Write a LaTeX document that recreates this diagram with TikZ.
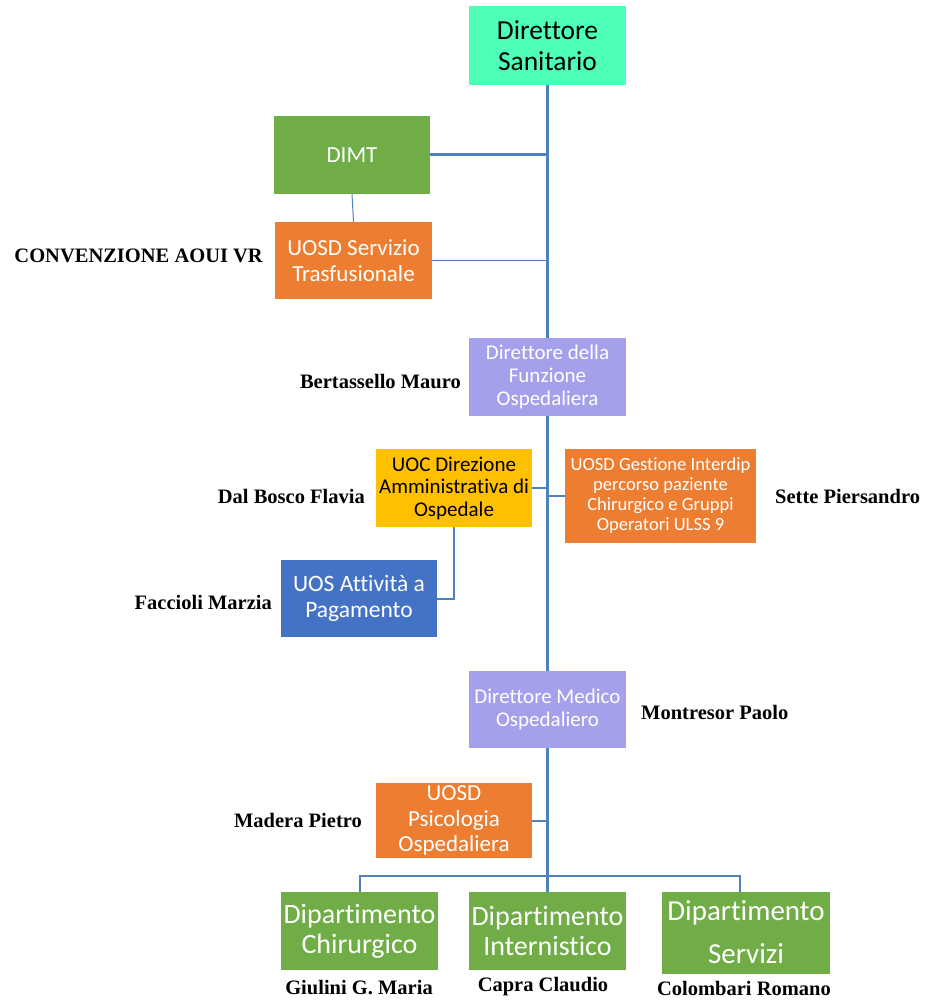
\documentclass[tikz,border=0pt]{standalone}
\usepackage{fontspec}
\setmainfont{Carlito}[Ligatures=CommonOff]
\newfontfamily\lblfont{Liberation Serif}
\definecolor{cmint}{HTML}{4DFFB7}
\definecolor{cgreen}{HTML}{70AD47}
\definecolor{corange}{HTML}{ED7D31}
\definecolor{clav}{HTML}{A5A0EB}
\definecolor{cyellow}{HTML}{FFC000}
\definecolor{cblue}{HTML}{4472C4}
\definecolor{cline}{HTML}{4F81BD}
\tikzset{
  box/.style={rectangle, inner sep=0pt, align=center, text=white},
  lbl/.style={font=\lblfont\bfseries\fontsize{20.5}{24}\selectfont, text=black, inner sep=0pt},
  thick line/.style={draw=cline, line width=3pt},
  mid line/.style={draw=cline, line width=2pt},
  thin line/.style={draw=cline, line width=1pt},
}
\begin{document}
\begin{tikzpicture}[x=1pt,y=-1pt]
\useasboundingbox (0,0) rectangle (925,1000);
\node[box, fill=cmint, text=black, minimum width=157pt, minimum height=79pt, font=\fontsize{27.5}{31}\selectfont] (ds) at (547.5,45.5) {Direttore\\Sanitario};
\node[box, fill=cgreen, minimum width=156pt, minimum height=78pt, font=\fontsize{23}{26}\selectfont] (dimt) at (352,155) {DIMT};
\node[box, fill=corange, minimum width=157pt, minimum height=77pt, font=\fontsize{23}{25.5}\selectfont] (trasf) at (353.5,260.5) {UOSD Servizio\\Trasfusionale};
\node[box, fill=clav, minimum width=157pt, minimum height=78pt, font=\fontsize{21}{23}\selectfont] (dfo) at (547.5,377) {Direttore della\\Funzione\\Ospedaliera};
\node[box, fill=cyellow, text=black, minimum width=156pt, minimum height=78pt, font=\fontsize{21}{22.5}\selectfont] (uoc) at (454,488) {UOC Direzione\\Amministrativa di\\Ospedale};
\node[box, fill=corange, minimum width=191pt, minimum height=94pt, font=\fontsize{18.6}{20}\selectfont] (gest) at (660.5,496) {UOSD Gestione Interdip\\percorso paziente\\Chirurgico e Gruppi\\Operatori ULSS 9};
\node[box, fill=cblue, minimum width=156pt, minimum height=77pt, font=\fontsize{23.5}{25.5}\selectfont] (uos) at (359,598.5) {UOS Attività a\\Pagamento};
\node[box, fill=clav, minimum width=157pt, minimum height=77pt, font=\fontsize{21}{23}\selectfont] (dmo) at (547.5,709.5) {Direttore Medico\\Ospedaliero};
\node[box, fill=corange, minimum width=156pt, minimum height=75pt, font=\fontsize{23}{25.5}\selectfont] (psi) at (454,820.5) {UOSD\\Psicologia\\Ospedaliera};
\node[box, fill=cgreen, minimum width=157pt, minimum height=78pt, font=\fontsize{28}{30}\selectfont] (dc) at (359.5,931) {Dipartimento\\Chirurgico};
\node[box, fill=cgreen, minimum width=157pt, minimum height=78pt, font=\fontsize{28}{30}\selectfont] (di) at (547.5,931) {Dipartimento\\Internistico};
\node[box, fill=cgreen, minimum width=168pt, minimum height=82pt, font=\fontsize{29}{43}\selectfont] (dsv) at (746,932.5) {Dipartimento\\Servizi};
% labels
\node[lbl, anchor=east] (l1) at (263,256) {CONVENZIONE AOUI VR};
\node[lbl, anchor=east] (l2) at (461,382) {Bertassello Mauro};
\node[lbl, anchor=east] (l3) at (365,496) {Dal Bosco Flavia};
\node[lbl, anchor=west] (l4) at (775,496) {Sette Piersandro};
\node[lbl, anchor=east] (l5) at (272,602) {Faccioli Marzia};
\node[lbl, anchor=west] (l6) at (641,712) {Montresor Paolo};
\node[lbl, anchor=east] (l7) at (362,820) {Madera Pietro};
\node[lbl] (l8) at (359,988) {Giulini G. Maria};
\node[lbl] (l9) at (543,987) {Capra Claudio};
\node[lbl] (l10) at (744,988) {Colombari Romano};
% connectors
\coordinate (bar) at (548,876);
\coordinate (dsvtop) at (740,891.5);
\draw[thick line] (ds.south) -- (dfo.north);
\draw[thick line] (dfo.south) -- (dmo.north);
\draw[thick line] (dmo.south) -- (di.north);
\draw[thick line] (dimt.east) -- (dimt.east -| ds.south);
\draw[thin line] (trasf.east) -- (trasf.east -| ds.south);
\draw[thin line] (dimt.south) -- (trasf.north);
\draw[mid line] (uoc.east) -- (uoc.east -| dfo.south);
\draw[mid line] (gest.west) -- (gest.west -| dfo.south);
\draw[mid line] (uoc.south) -- (uoc.south |- uos.east) -- (uos.east);
\draw[mid line] (psi.east) -- (psi.east -| dmo.south);
\draw[mid line] (dc.north) |- (bar) -| (dsvtop);
\end{tikzpicture}
\end{document}
